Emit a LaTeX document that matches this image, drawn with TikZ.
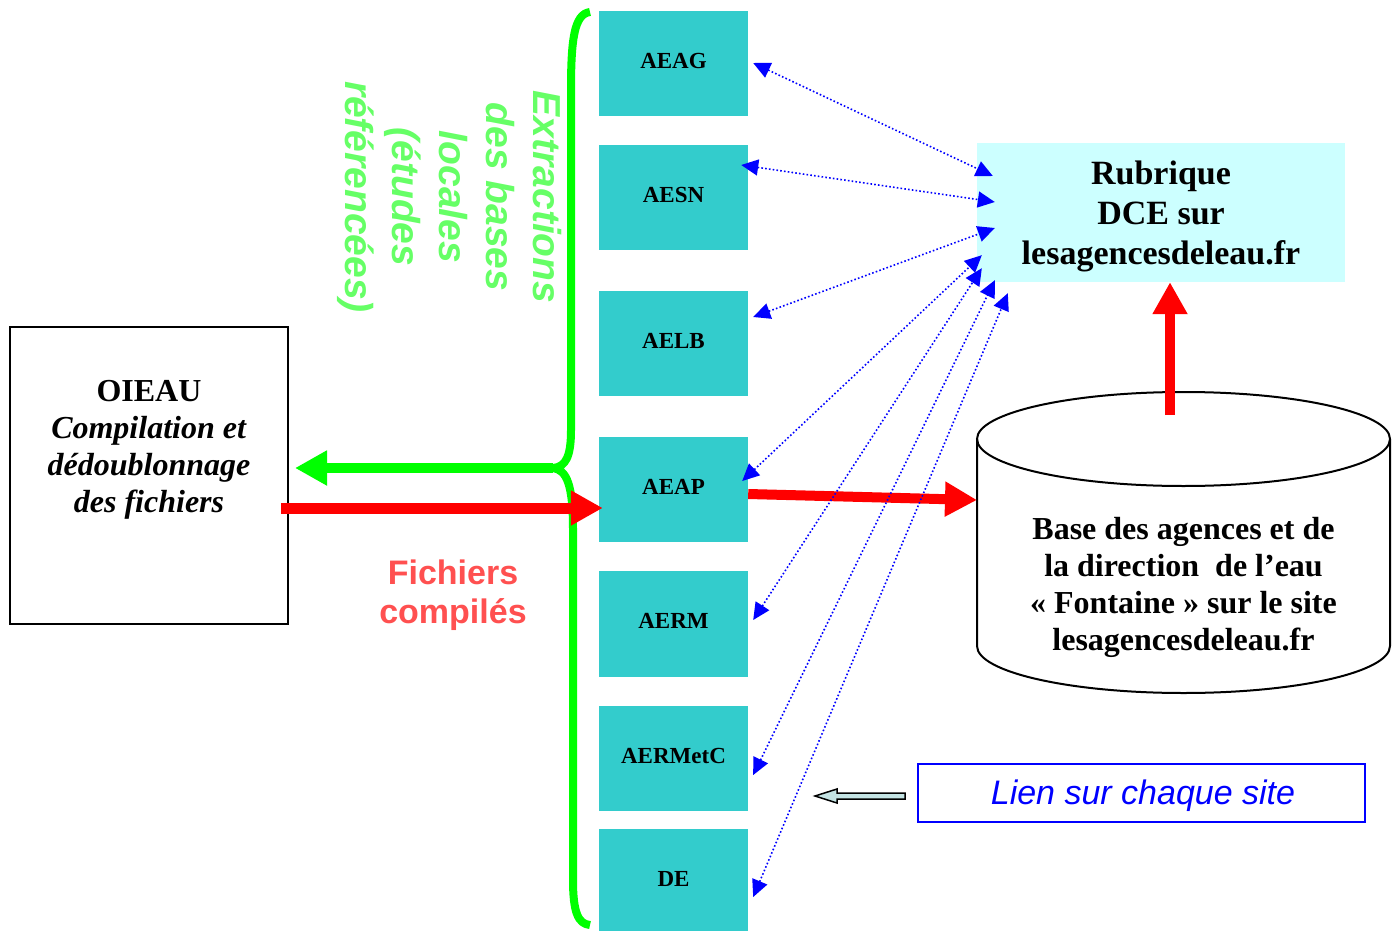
\documentclass[tikz,border=0pt]{standalone}
\usepackage{fontspec}
\setmainfont{Liberation Serif}
\newfontfamily\arialfont{Liberation Sans}
\usetikzlibrary{arrows.meta,calc}
\definecolor{agence}{HTML}{33CCCC}
\definecolor{rubrique}{HTML}{CCFFFF}
\definecolor{vert}{HTML}{00FF00}
\definecolor{vertclair}{HTML}{66FF66}
\definecolor{rouge}{HTML}{FF0000}
\definecolor{rougeclair}{HTML}{FF5050}
\definecolor{bleu}{HTML}{0000FF}
\definecolor{gris}{HTML}{C4E4E4}
\tikzset{
	agencebox/.style={fill=agence, minimum width=149pt, minimum height=105pt, inner sep=0pt, text depth=6pt, font=\fontsize{23}{27}\selectfont\bfseries},
	lien/.style={bleu, line width=1.6pt, dash pattern=on 1.6pt off 2.2pt, {Triangle[length=17pt,width=16pt]}-{Triangle[length=17pt,width=16pt]}},
	grosse/.style={line width=10pt, -{Triangle[length=32pt,width=33pt]}}
}

\begin{document}
\begin{tikzpicture}[x=1pt,y=-1pt]
			%%%%% START %%%%%
			
			\useasboundingbox[fill=white] (0,0) rectangle (1399,931);
			
			\node[agencebox] (aeag) at (673.5,63.5) {AEAG};
			\node[agencebox] (aesn) at (673.5,197.5) {AESN};
			\node[agencebox] (aelb) at (673.5,343.5) {AELB};
			\node[agencebox] (aeap) at (673.5,489.5) {AEAP};
			\node[agencebox, minimum height=106pt] (aerm) at (673.5,624) {AERM};
			\node[agencebox] (aermetc) at (673.5,758.5) {AERMetC};
			\node[agencebox, minimum height=102pt, text depth=2pt] (de) at (673.5,880) {DE};
			
			\coordinate (pointe) at (553,468);
			\draw[vert, line width=8pt, line join=round] (590,12) .. controls (574,14) and (571,40) .. (571,90) -- (571,430) .. controls (571,456) and (566,467) .. (pointe) .. controls (567,470) and (573,485) .. (573,530) -- (573,880) .. controls (573,912) and (578,924) .. (590,925);
			
			\node[rotate=-90, align=center, text=vertclair, font=\arialfont\fontsize{39}{47}\selectfont\bfseries\itshape] (extraction) at (450,197) {Extractions\\des bases\\locales\\(études\\référencées)};
			
			\node[draw, line width=2pt, minimum width=278pt, minimum height=297pt] (oieau) at (149,475.5) {};
			\node[align=center, font=\fontsize{32}{37}\selectfont\bfseries] (oieautxt) at (149,450) {OIEAU\\\textit{Compilation et}\\\textit{dédoublonnage}\\\textit{des fichiers}};
			
			\draw[vert, grosse] (pointe) -- ($(oieau.east |- pointe)+(6,0)$);
			\draw[rouge, grosse, line width=11pt] ([shift={(-8,32.5)}]oieau.east) -- ([shift={(4,18.5)}]aeap.west);
			
			\node[align=center, text=rougeclair, font=\arialfont\fontsize{34}{39}\selectfont\bfseries] (fichiers) at (453,595.5) {Fichiers\\compilés};
			
			\node[fill=rubrique, minimum width=368pt, minimum height=139pt] (rub) at (1161,212.5) {};
			\node[align=center, font=\fontsize{34}{40}\selectfont\bfseries] (rubtxt) at (1161,216) {Rubrique\\DCE sur\\lesagencesdeleau.fr};
			
			\draw[line width=2pt, fill=white] (977,439) -- (977,646) arc (180:0:206.5 and 47) -- (1390,439);
			\draw[line width=2pt] (1183.5,439) ellipse (206.5 and 47);
			\node[align=center, font=\fontsize{32}{37}\selectfont\bfseries] (base) at (1183.5,587.5) {Base des agences et de\\la direction\ \ de l’eau\\« Fontaine » sur le site\\lesagencesdeleau.fr};
			\coordinate (basehaut) at (1170,415);
			\coordinate (basegauche) at (977,500);
			
			\draw[rouge, grosse] (basehaut) -- ($(rub.south)+(9,0)$);
			\draw[rouge, grosse] ([shift={(0,4.5)}]aeap.east) -- (basegauche);
			
			\draw[lien] ([shift={(5,-0.5)}]aeag.east) -- ([shift={(16,-36.5)}]rub.west);
			\draw[lien] ([shift={(-7,-32.5)}]aesn.east) -- ([shift={(18,-10.5)}]rub.west);
			\draw[lien] ([shift={(5,-26.5)}]aelb.east) -- ([shift={(18,15.5)}]rub.west);
			\draw[lien] ([shift={(-6,-8.5)}]aeap.east) -- ([shift={(5,-27)}]rub.south west);
			\draw[lien] ([shift={(5,-4)}]aerm.east) -- ([shift={(5,-14)}]rub.south west);
			\draw[lien] ([shift={(5,16.5)}]aermetc.east) -- ([shift={(18,-2)}]rub.south west);
			\draw[lien] ([shift={(5,17)}]de.east) -- ([shift={(31,11)}]rub.south west);
			
			\node[draw=bleu, line width=2pt, minimum width=447pt, minimum height=58pt] (lien) at (1141.5,792.5) {};
			\node[text=bleu, font=\arialfont\fontsize{34}{40}\selectfont\itshape] (lientxt) at (1143,795.5) {Lien sur chaque site};
			\draw[fill=gris, line width=1.5pt] ([shift={(-12,0.5)}]lien.west) -- ++(0,6) -- ++(-68,0) -- ++(0,4) -- ++(-22,-7) -- ++(22,-7) -- ++(0,4) -- cycle;
			
			%%%%% END %%%%%
\end{tikzpicture}
\end{document}
